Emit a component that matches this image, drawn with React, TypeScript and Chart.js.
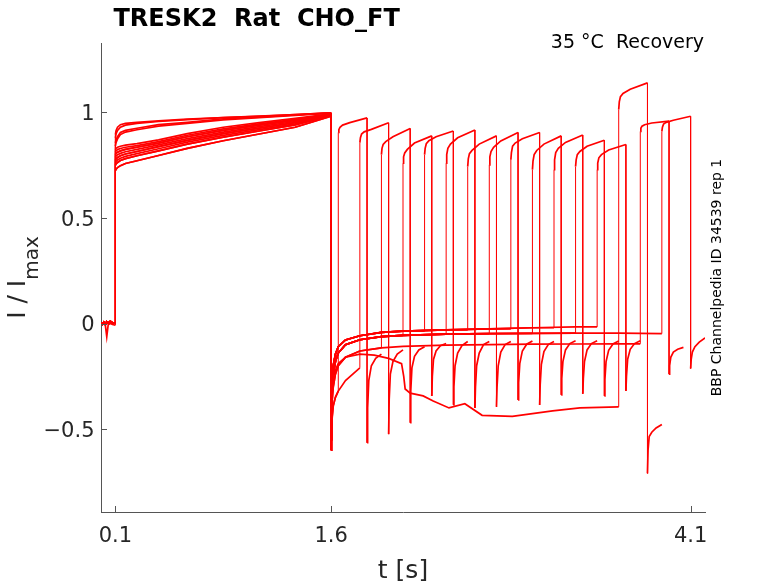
import { useEffect, useRef } from "react";
import { Chart, registerables } from "chart.js";

Chart.register(...registerables);

// ---- axis ticks ----
const xTicks = [0.1, 1.6, 4.1];
const xTickLabels = ["0.1", "1.6", "4.1"];
const yTicks = [-0.5, 0, 0.5, 1];
const yTickLabels = ["\u22120.5", "0", "0.5", "1"];

// ---- protocol timing (s) ----
const testOnsets = [1.65, 1.8, 1.95, 2.1, 2.25, 2.4, 2.55, 2.7, 2.85, 3.0, 3.15, 3.3, 3.45, 3.6, 3.75, 3.9];
const pulseWidth = 0.2;

// ---- holding before prepulse ----
const preT = [0, 0.01, 0.02, 0.03, 0.04, 0.05, 0.065, 0.08, 0.1];
const preBaseA = [0.004, -0.003, 0.006, -0.004, 0.008, 0.002, 0.01, 0.003, 0.002];
const preBaseB = [0.0, -0.005, -0.002, -0.006, -0.062, -0.006, 0.0, -0.004, -0.008];

// ---- prepulse 0.1 .. 1.6 s ----
const pulseT = [0.1, 0.105, 0.115, 0.135, 0.17, 0.25, 0.4, 0.6, 0.85, 1.1, 1.35, 1.6];
const preUpperA = [0.895, 0.915, 0.93, 0.942, 0.948, 0.953, 0.96, 0.968, 0.976, 0.983, 0.99, 0.998];
const preUpperB = [0.88, 0.9, 0.915, 0.93, 0.94, 0.948, 0.957, 0.966, 0.975, 0.982, 0.99, 0.998];
const preMidA = [0.855, 0.87, 0.885, 0.905, 0.915, 0.925, 0.942, 0.953, 0.97, 0.978, 0.988, 0.998];
const preMidB = [0.84, 0.858, 0.875, 0.895, 0.907, 0.918, 0.935, 0.948, 0.965, 0.975, 0.986, 0.997];
const preBunch1 = [0.824, 0.83, 0.835, 0.84, 0.845, 0.852, 0.87, 0.9, 0.93, 0.952, 0.972, 0.993];
const preBunch2 = [0.8, 0.806, 0.812, 0.818, 0.825, 0.835, 0.855, 0.885, 0.915, 0.94, 0.962, 0.99];
const preBunch3 = [0.775, 0.78, 0.787, 0.795, 0.803, 0.815, 0.838, 0.868, 0.9, 0.926, 0.952, 0.988];
const preBunch4 = [0.75, 0.756, 0.763, 0.772, 0.781, 0.795, 0.818, 0.85, 0.883, 0.912, 0.941, 0.985];
const preBunch5 = [0.725, 0.731, 0.739, 0.748, 0.758, 0.771, 0.796, 0.83, 0.866, 0.898, 0.93, 0.982];
const preBunch6 = [0.812, 0.818, 0.824, 0.829, 0.835, 0.843, 0.862, 0.892, 0.922, 0.946, 0.967, 0.992];
const preBunch7 = [0.788, 0.793, 0.8, 0.806, 0.814, 0.825, 0.846, 0.876, 0.907, 0.933, 0.957, 0.989];
const preBunch8 = [0.762, 0.768, 0.775, 0.783, 0.792, 0.805, 0.828, 0.859, 0.891, 0.919, 0.946, 0.986];
const prePulseSets = [
  preUpperA, preUpperB, preMidA, preMidB,
  preBunch1, preBunch2, preBunch3, preBunch4, preBunch5, preBunch6, preBunch7, preBunch8,
];

// ---- after prepulse, until test pulse ----
const postT = [1.6, 1.603, 1.608, 1.615, 1.63, 1.65, 1.7, 1.8, 1.95, 2.1, 2.4, 2.7, 3.0, 3.3, 3.6, 3.9];
const postTop = [-0.48, -0.33, -0.25, -0.2, -0.145, -0.11, -0.078, -0.058, -0.042, -0.036, -0.03, -0.025, -0.02, -0.016, -0.012, -0.01];
const postMid = [-0.55, -0.4, -0.3, -0.24, -0.18, -0.14, -0.1, -0.077, -0.062, -0.056, -0.05, -0.048, -0.047, -0.046, -0.046, -0.048];
const postLow = [-0.6, -0.45, -0.36, -0.3, -0.24, -0.2, -0.16, -0.13, -0.115, -0.108, -0.102, -0.1, -0.098, -0.097, -0.096, -0.095];
const postDeep = [-0.6, -0.5, -0.44, -0.39, -0.35, -0.32, -0.27, -0.21, -0.17, -0.15, -0.13, -0.12, -0.11, -0.105, -0.1, -0.1];
const postSets = [postTop, postMid, postLow, postDeep];
// sweep with the run-down after 2.1 s
const anomT = [1.6, 1.603, 1.608, 1.615, 1.63, 1.65, 1.7, 1.8, 1.9, 2.0, 2.09, 2.105, 2.115, 2.15, 2.24, 2.31, 2.42, 2.53, 2.65, 2.86, 3.14, 3.33, 3.6];
const anomV = [-0.5, -0.36, -0.3, -0.26, -0.22, -0.19, -0.16, -0.145, -0.15, -0.165, -0.19, -0.25, -0.31, -0.33, -0.343, -0.367, -0.4, -0.38, -0.435, -0.44, -0.414, -0.4, -0.395];

// ---- test pulse (relative to onset) ----
const testRelT = [0, 0.004, 0.012, 0.03, 0.08, 0.2];
const testTops = [
  [0.905, 0.918, 0.93, 0.94, 0.952, 0.974],
  [0.857, 0.88, 0.898, 0.908, 0.92, 0.951],
  [0.8, 0.83, 0.848, 0.862, 0.885, 0.924],
  [0.76, 0.79, 0.808, 0.825, 0.855, 0.889],
  [0.8, 0.83, 0.852, 0.866, 0.885, 0.912],
  [0.76, 0.8, 0.83, 0.85, 0.88, 0.917],
  [0.744, 0.78, 0.805, 0.82, 0.85, 0.889],
  [0.752, 0.79, 0.815, 0.835, 0.865, 0.905],
  [0.776, 0.81, 0.84, 0.855, 0.875, 0.905],
  [0.729, 0.77, 0.8, 0.82, 0.85, 0.889],
  [0.729, 0.775, 0.81, 0.83, 0.858, 0.893],
  [0.744, 0.775, 0.8, 0.815, 0.84, 0.868],
  [0.729, 0.76, 0.785, 0.8, 0.822, 0.848],
  [1.014, 1.05, 1.075, 1.09, 1.11, 1.14],
  [0.91, 0.925, 0.935, 0.942, 0.95, 0.959],
  [0.91, 0.93, 0.945, 0.953, 0.963, 0.982],
];

// ---- tail after test pulse (relative to its end) ----
const tailRelT = [0, 0.004, 0.012, 0.03, 0.06, 0.1];
const testTails = [
  [-0.565, -0.4, -0.27, -0.2, -0.165, -0.145],
  [-0.524, -0.36, -0.24, -0.18, -0.145, -0.125],
  [-0.47, -0.32, -0.21, -0.155, -0.125, -0.11],
  [-0.343, -0.25, -0.17, -0.13, -0.105, -0.095],
  [-0.385, -0.3, -0.2, -0.14, -0.105, -0.085],
  [-0.4, -0.3, -0.2, -0.14, -0.1, -0.085],
  [-0.395, -0.3, -0.2, -0.135, -0.1, -0.085],
  [-0.362, -0.28, -0.19, -0.13, -0.098, -0.083],
  [-0.386, -0.29, -0.195, -0.133, -0.1, -0.085],
  [-0.338, -0.26, -0.18, -0.125, -0.095, -0.082],
  [-0.333, -0.26, -0.18, -0.125, -0.095, -0.082],
  [-0.343, -0.265, -0.18, -0.127, -0.097, -0.083],
  [-0.319, -0.25, -0.17, -0.122, -0.095, -0.082],
  [-0.71, -0.6, -0.535, -0.515, -0.495, -0.478],
  [-0.24, -0.2, -0.16, -0.135, -0.122, -0.113],
  [-0.213, -0.17, -0.135, -0.11, -0.088, -0.068],
];

// ---- which reading belongs to which sweep ----
const preBaseVariant = [1, 0, 0, 0, 0, 0, 0, 0, 0, 0, 0, 0, 0, 0, 0, 0];
const prePulseVariant = [3, 4, 9, 5, 10, 6, 11, 7, 8, 5, 6, 7, 0, 8, 2, 1];
const postVariant = [3, 3, 2, 1, 0, 1, 0, 1, 0, 1, 0, 1, 0, -1, 2, 1];

function buildSweep(i: number) {
  const pts: { x: number; y: number }[] = [];
  const pre = preBaseVariant[i] === 1 ? preBaseB : preBaseA;
  preT.forEach((t, k) => pts.push({ x: t, y: pre[k] }));
  const pp = prePulseSets[prePulseVariant[i]];
  pulseT.forEach((t, k) => pts.push({ x: t, y: pp[k] }));
  const onset = testOnsets[i];
  const bt = postVariant[i] < 0 ? anomT : postT;
  const bv = postVariant[i] < 0 ? anomV : postSets[postVariant[i]];
  let last = bv[0];
  for (let k = 0; k < bt.length; k++) {
    if (bt[k] <= onset + 1e-9) {
      pts.push({ x: bt[k], y: bv[k] });
      last = bv[k];
    }
  }
  if (pts[pts.length - 1].x < onset) pts.push({ x: onset, y: last });
  const top = testTops[i];
  testRelT.forEach((r, k) => pts.push({ x: onset + r, y: top[k] }));
  const fall = onset + pulseWidth;
  const tail = testTails[i];
  tailRelT.forEach((r, k) => pts.push({ x: fall + r, y: tail[k] }));
  return pts;
}

const FONT = '"DejaVu Sans", "Liberation Sans", sans-serif';
const TXT = "#262626";
const AX = "#555555";

const decor = {
  id: "decor",
  afterDraw(chart: any) {
    const ctx = chart.ctx as CanvasRenderingContext2D;
    const { left, bottom, top, right } = chart.chartArea;
    const xs = chart.scales.x;
    const ys = chart.scales.y;
    ctx.save();
    // tick marks (inward)
    ctx.strokeStyle = AX;
    ctx.lineWidth = 1;
    xTicks.forEach((v) => {
      const px = Math.round(xs.getPixelForValue(v)) + 0.5;
      ctx.beginPath();
      ctx.moveTo(px, bottom);
      ctx.lineTo(px, bottom - 6);
      ctx.stroke();
    });
    yTicks.forEach((v) => {
      const py = Math.round(ys.getPixelForValue(v)) + 0.5;
      ctx.beginPath();
      ctx.moveTo(left, py);
      ctx.lineTo(left + 6, py);
      ctx.stroke();
    });
    // tick labels
    ctx.fillStyle = TXT;
    ctx.font = `21px ${FONT}`;
    ctx.textBaseline = "alphabetic";
    ctx.textAlign = "center";
    xTicks.forEach((v, k) => {
      ctx.fillText(xTickLabels[k], xs.getPixelForValue(v), bottom + 29.5);
    });
    ctx.textAlign = "right";
    yTicks.forEach((v, k) => {
      ctx.fillText(yTickLabels[k], left - 6.5, ys.getPixelForValue(v) + 7.6);
    });
    // x label
    ctx.font = `25px ${FONT}`;
    ctx.textAlign = "center";
    ctx.fillText("t [s]", (left + right) / 2, 578);
    // y label with subscript
    const cy = (top + bottom) / 2;
    ctx.save();
    ctx.translate(25, cy);
    ctx.rotate(-Math.PI / 2);
    ctx.font = `25px ${FONT}`;
    const main = "I / I";
    const wMain = ctx.measureText(main).width;
    ctx.font = `20px ${FONT}`;
    const wSub = ctx.measureText("max").width;
    const total = wMain + wSub;
    ctx.textAlign = "left";
    ctx.font = `25px ${FONT}`;
    ctx.fillText(main, -total / 2, 0);
    ctx.font = `20px ${FONT}`;
    ctx.fillText("max", -total / 2 + wMain, 13);
    ctx.restore();
    // title
    ctx.fillStyle = "#000000";
    ctx.font = `bold 24px ${FONT}`;
    ctx.textAlign = "left";
    ctx.fillText("TRESK2  Rat  CHO_FT", 113.5, 26);
    // condition text
    ctx.fillStyle = "#000000";
    ctx.font = `19px ${FONT}`;
    ctx.textAlign = "right";
    ctx.fillText("35 \u00B0C  Recovery", 704, 47.5);
    // side text
    ctx.save();
    ctx.translate(720.5, cy);
    ctx.rotate(-Math.PI / 2);
    ctx.font = `14px ${FONT}`;
    ctx.textAlign = "center";
    ctx.fillText("BBP Channelpedia ID 34539 rep 1", 0, 0);
    ctx.restore();
    ctx.restore();
  },
};

export default function App() {
  const ref = useRef<HTMLCanvasElement>(null);
  useEffect(() => {
    if (!ref.current) return;
    const datasets = testOnsets.map((_, i) => ({
      data: buildSweep(i),
      borderColor: "#ff0000",
      borderWidth: 1.7,
      pointRadius: 0,
      fill: false,
      tension: 0,
      segment: {
        borderWidth: (c: any) => (c.p0.parsed.x === c.p1.parsed.x ? 1 : 1.7),
      },
    }));
    const chart = new Chart(ref.current, {
      type: "line",
      data: { datasets },
      options: {
        animation: false,
        responsive: false,
        parsing: false,
        events: [],
        layout: { padding: { top: 43, right: 73, left: 0, bottom: 0 } },
        plugins: { legend: { display: false }, tooltip: { enabled: false } },
        scales: {
          x: {
            type: "linear",
            min: 0,
            max: 4.2,
            ticks: { display: false },
            grid: { display: false, drawTicks: false },
            border: { display: true, color: AX, width: 1 },
            afterFit: (s: any) => {
              s.height = 71;
            },
          },
          y: {
            type: "linear",
            min: -0.893,
            max: 1.329,
            ticks: { display: false },
            grid: { display: false, drawTicks: false },
            border: { display: true, color: AX, width: 1 },
            afterFit: (s: any) => {
              s.width = 101;
            },
          },
        },
      } as any,
      plugins: [decor],
    });
    return () => chart.destroy();
  }, []);
  return (
    <canvas
      ref={ref}
      width={778}
      height={583}
      style={{ position: "fixed", left: 0, top: 0, width: 778, height: 583, background: "#fff" }}
    />
  );
}
